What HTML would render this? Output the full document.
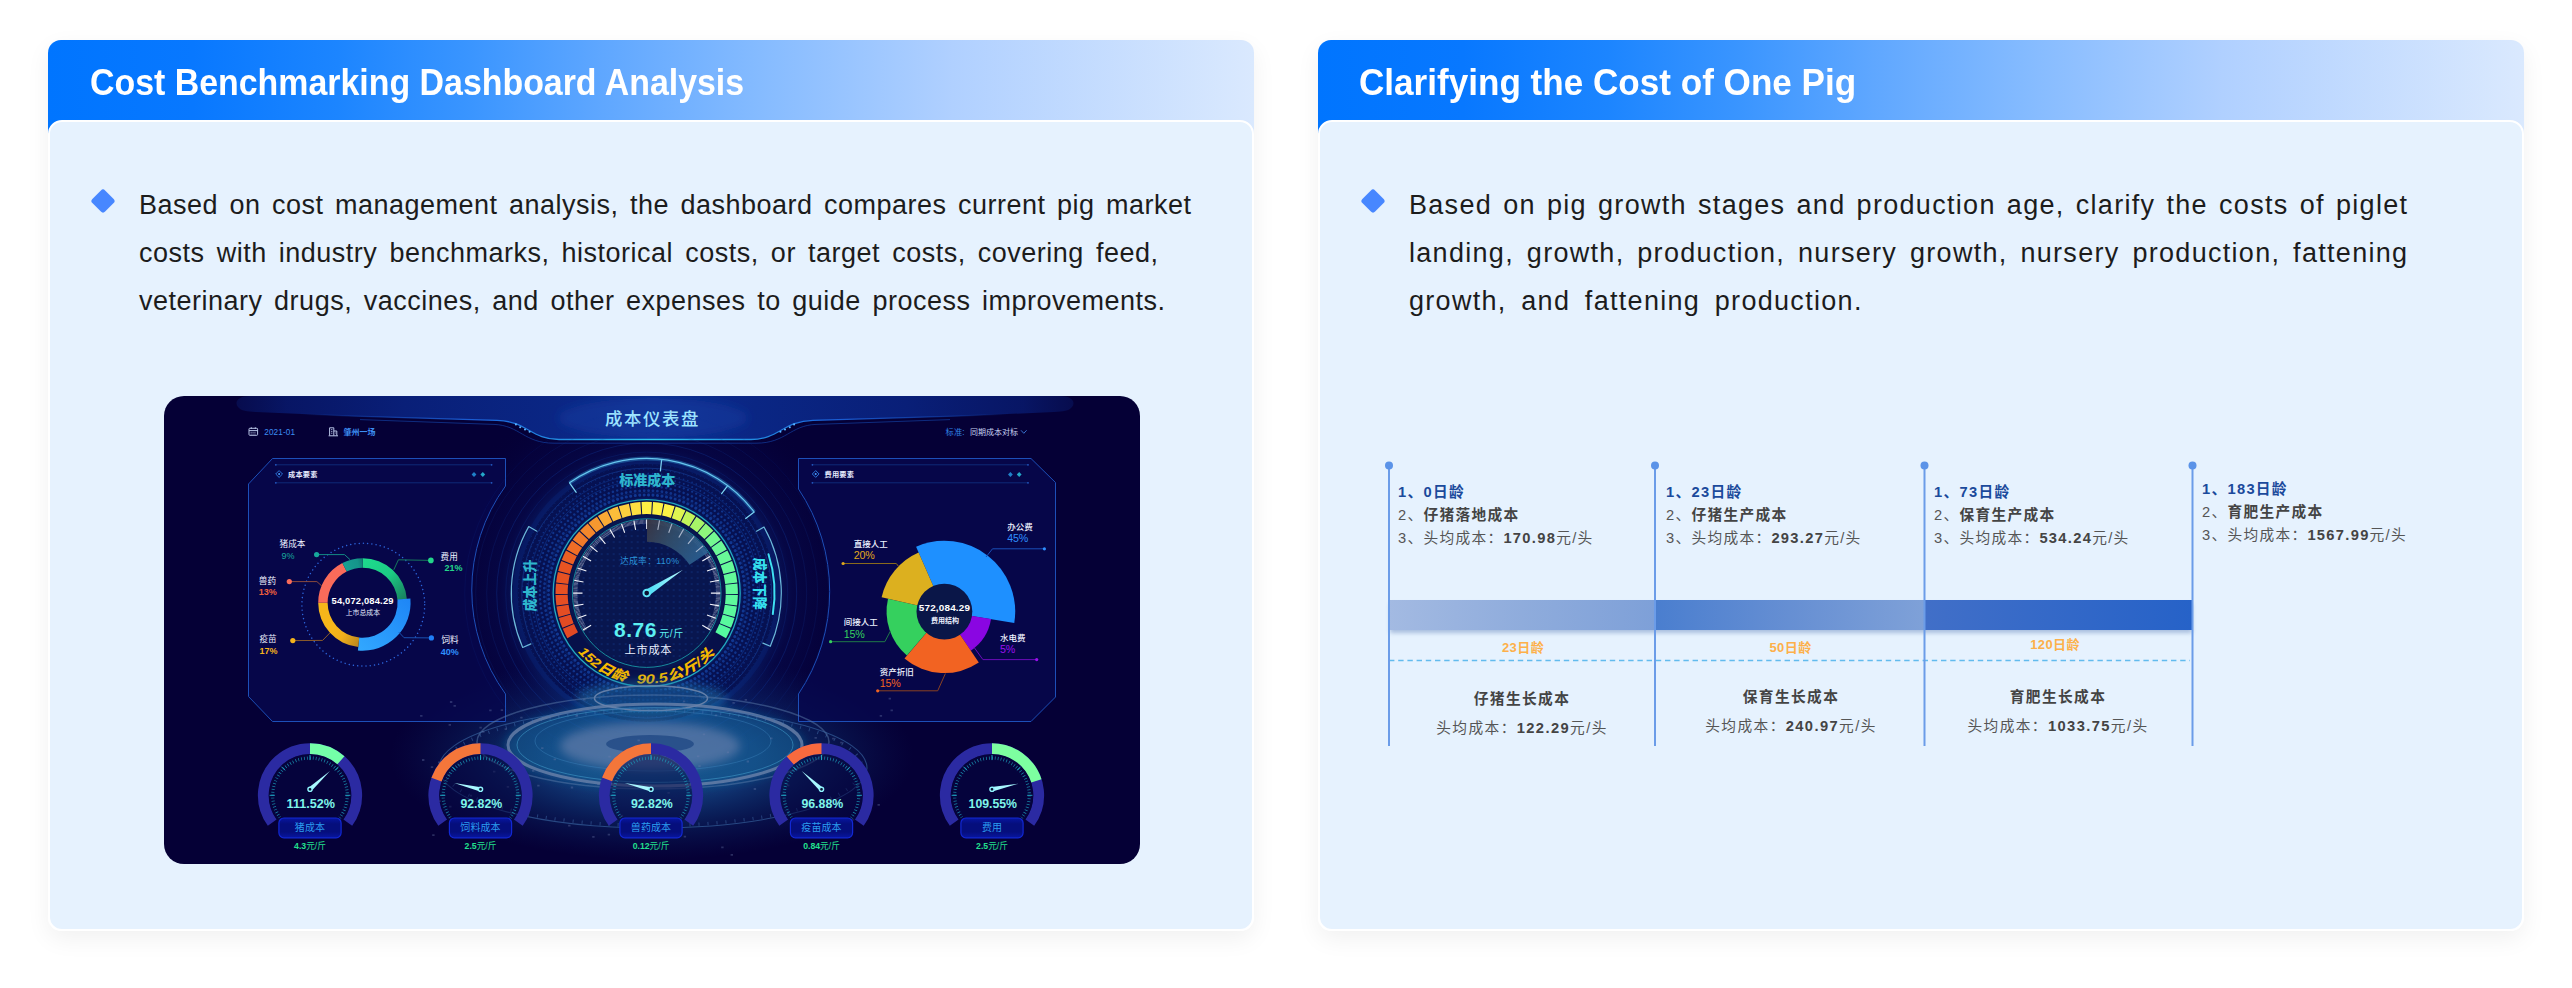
<!DOCTYPE html>
<html lang="en">
<head>
<meta charset="utf-8">
<title>Cost Benchmarking Dashboard Analysis</title>
<style>
*{box-sizing:border-box;margin:0;padding:0}
html,body{width:2572px;height:988px;background:#fff;overflow:hidden}
body{position:relative;font-family:"Liberation Sans","Noto Sans CJK SC",sans-serif;color:#1a1a1a}
.card{position:absolute;top:40px;width:1206px;height:891px;border-radius:13px;
  background:linear-gradient(90deg,#0075ff 0%,#0878ff 12%,#1c85ff 24%,#3a95ff 35%,#5fa7ff 46%,#85bbff 59%,#b0d0ff 75%,#dae9fe 100%) 0 0/100% 110px no-repeat #fff;
  box-shadow:0 8px 24px rgba(0,0,0,.06)}
.card .body{position:absolute;left:0;top:80px;width:1206px;height:811px;background:#e6f2fe;border:2px solid #fff;border-radius:14px}
.title{position:absolute;left:42px;top:21px;height:44px;line-height:44px;font-weight:700;font-size:36.5px;color:#fff;white-space:nowrap;transform-origin:0 50%}
.dia{position:absolute;left:46px;top:152px;width:18px;height:18px;background:#4787ff;border-radius:3px;transform:rotate(45deg)}
.ln{position:absolute;left:91px;height:48px;line-height:48px;font-size:27px;white-space:nowrap;color:#1c1c1c;letter-spacing:.5px}
.r .ln{letter-spacing:1.3px}

.tl{font-family:"Liberation Sans","Noto Sans CJK SC",sans-serif}
.tb{position:absolute;font-size:14.7px;letter-spacing:1.3px;line-height:23.1px;color:#555;white-space:nowrap}
.tb b{color:#444;font-weight:700}

.tb .h{color:#1b4a9c;font-weight:700}
.ag{position:absolute;width:100px;text-align:center;font-size:13px;letter-spacing:.4px;line-height:20px;font-weight:700;color:#fdb04a;white-space:nowrap}
.bb{position:absolute;text-align:center;font-size:14.7px;letter-spacing:1.4px;line-height:29px;color:#555;white-space:nowrap}
.bb .h{font-weight:700;color:#444}
.bb b{color:#444}
</style>
</head>
<body>
<div class="card" style="left:48px">
  <div class="title" id="t1" style="transform:scaleX(.9285)">Cost Benchmarking Dashboard Analysis</div>
  <div class="body"></div>
  <div class="dia"></div>
  <div class="ln" id="a1" style="top:141px;word-spacing:3.45px">Based on cost management analysis, the dashboard compares current pig market</div>
  <div class="ln" id="a2" style="top:189px;word-spacing:4.11px">costs with industry benchmarks, historical costs, or target costs, covering feed,</div>
  <div class="ln" id="a3" style="top:237px;word-spacing:3.56px">veterinary drugs, vaccines, and other expenses to guide process improvements.</div>
</div>
<div class="card r" style="left:1318px">
  <div class="title" id="t2" style="transform:scaleX(.9615);margin-left:-1px">Clarifying the Cost of One Pig</div>
  <div class="body"></div>
  <div class="dia"></div>
  <div class="ln" id="b1" style="top:141px;word-spacing:2.34px">Based on pig growth stages and production age, clarify the costs of piglet</div>
  <div class="ln" id="b2" style="top:189px;word-spacing:4.03px">landing, growth, production, nursery growth, nursery production, fattening</div>
  <div class="ln" id="b3" style="top:237px;word-spacing:5.84px">growth, and fattening production.</div>
</div>

<!--DASH-->
<svg class="dash" width="976" height="468" viewBox="164 396 976 468" style="position:absolute;left:164px;top:396px;border-radius:20px;overflow:hidden;font-family:'Liberation Sans','Noto Sans CJK SC',sans-serif">
<defs>
<radialGradient id="gGlow" cx="646.7" cy="593" r="215" gradientUnits="userSpaceOnUse"><stop offset="0" stop-color="#0a2a80" stop-opacity=".8"/><stop offset=".6" stop-color="#0a2878" stop-opacity=".55"/><stop offset=".68" stop-color="#08186a" stop-opacity=".28"/><stop offset=".85" stop-color="#071060" stop-opacity=".12"/><stop offset="1" stop-color="#050035" stop-opacity="0"/></radialGradient>
<radialGradient id="hGlow" cx=".5" cy=".5" r=".5"><stop offset="0" stop-color="#1f66a4" stop-opacity=".75"/><stop offset=".4" stop-color="#185a9c" stop-opacity=".62"/><stop offset=".62" stop-color="#104484" stop-opacity=".42"/><stop offset=".82" stop-color="#0c2c6c" stop-opacity=".24"/><stop offset="1" stop-color="#0a2060" stop-opacity="0"/></radialGradient>
<radialGradient id="hCore" cx=".5" cy=".5" r=".5"><stop offset="0" stop-color="#16386e" stop-opacity=".9"/><stop offset=".35" stop-color="#5d7fb4" stop-opacity=".85"/><stop offset=".7" stop-color="#4a78b4" stop-opacity=".45"/><stop offset="1" stop-color="#2a68b0" stop-opacity="0"/></radialGradient>
<linearGradient id="hdr" x1="0" x2="1" y1="0" y2="0"><stop offset="0" stop-color="#08145e" stop-opacity=".6"/><stop offset=".06" stop-color="#08186a" stop-opacity=".9"/><stop offset=".2" stop-color="#091f78"/><stop offset=".38" stop-color="#0a2684"/><stop offset=".5" stop-color="#0c2e90"/><stop offset=".62" stop-color="#0a2684"/><stop offset=".8" stop-color="#091f78"/><stop offset=".94" stop-color="#08186a" stop-opacity=".9"/><stop offset="1" stop-color="#08145e" stop-opacity=".6"/></linearGradient>
<linearGradient id="hdrl" x1="0" x2="1" y1="0" y2="0"><stop offset="0" stop-color="#1b5fd8" stop-opacity="0"/><stop offset=".25" stop-color="#1b5fd8"/><stop offset=".5" stop-color="#2cc6ee"/><stop offset=".75" stop-color="#1b5fd8"/><stop offset="1" stop-color="#1b5fd8" stop-opacity="0"/></linearGradient>
<pattern id="dots" x="646.7" y="593.1" width="4.6" height="4.6" patternUnits="userSpaceOnUse"><circle cx="2.3" cy="2.3" r="1.35" fill="#1b46ad"/></pattern>
<radialGradient id="dotFade" cx="646.7" cy="593.1" r="132" gradientUnits="userSpaceOnUse"><stop offset=".72" stop-color="#fff" stop-opacity="1"/><stop offset=".85" stop-color="#fff" stop-opacity=".75"/><stop offset="1" stop-color="#fff" stop-opacity="0"/></radialGradient>
<mask id="dotMask"><circle cx="646.7" cy="593.1" r="132" fill="url(#dotFade)"/></mask>
<pattern id="dots2" x="646.7" y="593.1" width="6" height="6" patternUnits="userSpaceOnUse"><circle cx="3" cy="3" r=".9" fill="#123a8c"/></pattern>
<linearGradient id="wedge" x1="646" y1="520" x2="706" y2="556" gradientUnits="userSpaceOnUse"><stop offset="0" stop-color="#3a3542" stop-opacity=".95"/><stop offset=".45" stop-color="#33506c" stop-opacity=".9"/><stop offset="1" stop-color="#2a6296" stop-opacity=".9"/></linearGradient>
<linearGradient id="ndl" x1="0" x2="1" y1="0" y2="0"><stop offset="0" stop-color="#46dcf6"/><stop offset="1" stop-color="#b8fbff"/></linearGradient>
<filter id="b1" x="-20%" y="-20%" width="140%" height="140%"><feGaussianBlur stdDeviation="1.2"/></filter>
<filter id="b3" x="-20%" y="-20%" width="140%" height="140%"><feGaussianBlur stdDeviation="3"/></filter>
<filter id="b5" x="-20%" y="-40%" width="140%" height="180%"><feGaussianBlur stdDeviation="5"/></filter>
<filter id="b8" x="-30%" y="-30%" width="160%" height="160%"><feGaussianBlur stdDeviation="8"/></filter>
<linearGradient id="lblg" x1="0" x2="0" y1="0" y2="1"><stop offset="0" stop-color="#0816a0"/><stop offset=".3" stop-color="#050e7c"/><stop offset=".7" stop-color="#050e7c"/><stop offset="1" stop-color="#0816a0"/></linearGradient>
</defs>
<rect x="164" y="396" width="976" height="468" fill="#050036"/>
<ellipse cx="652" cy="756" rx="262" ry="104" fill="url(#hGlow)"/>
<circle cx="646.7" cy="593" r="215" fill="url(#gGlow)"/>
<path d="M250 396C238 396 234 402 238 407C241 411 247 411.6 256 412L354 416.2L497 420.3C527 421.2 531 439.5 559 439.5L751 439.5C779 439.5 783 421.2 813 420.3L956 416.2L1054 412C1063 411.6 1069 411 1072 407C1076 402 1072 396 1060 396Z" fill="url(#hdr)"/>
<ellipse cx="653" cy="418" rx="95" ry="20" fill="#1846b0" fill-opacity=".3" filter="url(#b5)"/>
<path d="M300 414L354 416.2L497 420.3C527 421.2 531 439.5 559 439.5L751 439.5C779 439.5 783 421.2 813 420.3L956 416.2L1010 414" fill="none" stroke="url(#hdrl)" stroke-width="1.3"/>
<path d="M360 419.6L494 424.4C520 425.4 524 443.2 554 443.2L756 443.2C786 443.2 790 425.4 816 424.4L950 419.6" fill="none" stroke="#1a56c8" stroke-opacity=".5" stroke-width="1"/>
<circle cx="515.9" cy="424.4" r="1.05" fill="#5db4ff"/>
<circle cx="794.1" cy="424.4" r="1.05" fill="#5db4ff"/>
<circle cx="520.2" cy="427.2" r="1.05" fill="#5db4ff"/>
<circle cx="789.8" cy="427.2" r="1.05" fill="#5db4ff"/>
<circle cx="525" cy="429.5" r="1.05" fill="#5db4ff"/>
<circle cx="785" cy="429.5" r="1.05" fill="#5db4ff"/>
<circle cx="529.6" cy="431.7" r="1.05" fill="#5db4ff"/>
<circle cx="780.4" cy="431.7" r="1.05" fill="#5db4ff"/>
<text x="652.5" y="424.6" text-anchor="middle" font-size="17.4" font-weight="500" letter-spacing="1.6" fill="#9de4ff">成本仪表盘</text>
<g fill="none" stroke="#b8c4e6" stroke-width="1"><rect x="249" y="428.3" width="8.6" height="7" rx=".8"/><path d="M249 430.6h8.6M251.3 427.3v1.6M255.3 427.3v1.6" /><path d="M250.6 432.4h5.6M250.6 434h5.6" stroke-width=".7" stroke-dasharray="1.1 .8"/></g>
<text x="264.3" y="435" font-size="8.2" fill="#3d8ef2" letter-spacing=".1">2021-01</text>
<g fill="none" stroke="#b8c4e6" stroke-width="1"><path d="M329.6 435.6V427.8h4.2v7.8M333.8 431h3v4.6M328.6 435.8h9.4"/><path d="M331 429.6h1.4M331 431.4h1.4M331 433.2h1.4M335 433h.8" stroke-width=".8"/></g>
<text x="343.4" y="435" font-size="8" font-weight="700" fill="#3d8ef2">肇州一场</text>
<text x="945.4" y="435" font-size="8.2" fill="#2f80e4" letter-spacing=".3">标准:</text>
<text x="970" y="435" font-size="8" fill="#c6d2f2">同期成本对标</text>
<path d="M1021 430.3l2.8 3 2.8-3" fill="none" stroke="#3d7fe0" stroke-width=".9"/>
<path d="M272.5 458.5L505.5 458.5L505.5 486A177.2 177.2 0 0 0 505.5 694L505.5 721.5L272.5 721.5L248.5 696.5L248.5 484Z" fill="#06084e" fill-opacity=".78" stroke="#1d4fb8" stroke-width="1"/>
<path d="M798.5 458.5L1031 458.5L1055.5 482.5L1055.5 697L1031 721.5L798.5 721.5L798.5 694A184.1 184.1 0 0 0 798.5 489Z" fill="#06084e" fill-opacity=".78" stroke="#1d4fb8" stroke-width="1"/>
<path d="M275.8 464.8H491.6M275.8 482.8H491.6" stroke="#0e2c7c" stroke-width=".9" fill="none"/>
<circle cx="275.8" cy="464.8" r=".9" fill="#2458c0"/><circle cx="491.6" cy="464.8" r=".9" fill="#2458c0"/><circle cx="275.8" cy="482.8" r=".9" fill="#2458c0"/><circle cx="491.6" cy="482.8" r=".9" fill="#2458c0"/>
<path d="M279.1 470.6l3.4 3.4-3.4 3.4-3.4-3.4z" fill="none" stroke="#2f7fe6" stroke-width=".9"/><circle cx="279.1" cy="474" r="1" fill="#4aa0ff"/>
<text x="288" y="476.7" font-size="7.2" font-weight="700" fill="#e6ecff" letter-spacing=".2">成本要素</text>
<path d="M474 471.9l2.4 2.5-2.4 2.5-2.4-2.5z" fill="#1f80c8"/><path d="M482.8 471.9l2.4 2.5-2.4 2.5-2.4-2.5z" fill="#24a8c8"/>
<path d="M812.4 464.8H1028M812.4 482.8H1028" stroke="#0e2c7c" stroke-width=".9" fill="none"/>
<circle cx="812.4" cy="464.8" r=".9" fill="#2458c0"/><circle cx="1028" cy="464.8" r=".9" fill="#2458c0"/><circle cx="812.4" cy="482.8" r=".9" fill="#2458c0"/><circle cx="1028" cy="482.8" r=".9" fill="#2458c0"/>
<path d="M815.7 470.6l3.4 3.4-3.4 3.4-3.4-3.4z" fill="none" stroke="#2f7fe6" stroke-width=".9"/><circle cx="815.7" cy="474" r="1" fill="#4aa0ff"/>
<text x="824.6" y="476.7" font-size="7.2" font-weight="700" fill="#e6ecff" letter-spacing=".2">费用要素</text>
<path d="M1010.4 471.9l2.4 2.5-2.4 2.5-2.4-2.5z" fill="#1f80c8"/><path d="M1019.2 471.9l2.4 2.5-2.4 2.5-2.4-2.5z" fill="#24a8c8"/>
<circle cx="363.3" cy="604.7" r="61.4" fill="none" stroke="#2c64da" stroke-width="1.5" stroke-dasharray="0.01 4.24" stroke-linecap="round"/>
<defs>
<linearGradient id="dg1" x1="363" y1="558" x2="407" y2="600" gradientUnits="userSpaceOnUse"><stop offset="0" stop-color="#1edc8e"/><stop offset=".5" stop-color="#1ccc84"/><stop offset=".8" stop-color="#1a9a6c"/><stop offset="1" stop-color="#187a5c"/></linearGradient>
<linearGradient id="dg2" x1="410" y1="600" x2="358" y2="650" gradientUnits="userSpaceOnUse"><stop offset="0" stop-color="#1e86f6"/><stop offset="1" stop-color="#32a8ff"/></linearGradient>
<linearGradient id="dg3" x1="358" y1="647" x2="332" y2="630" gradientUnits="userSpaceOnUse"><stop offset="0" stop-color="#b8861e"/><stop offset=".6" stop-color="#f0ae1c"/><stop offset="1" stop-color="#f6b61a"/></linearGradient>
<linearGradient id="dg5" x1="343" y1="563" x2="363" y2="558" gradientUnits="userSpaceOnUse"><stop offset="0" stop-color="#17a093"/><stop offset=".7" stop-color="#15958a"/><stop offset="1" stop-color="#127a70"/></linearGradient>
</defs>
<path d="M362.6 558.3A44.4 44.4 0 0 1 406.9 599.2L397.5 600A35 35 0 0 0 362.6 567.7Z" fill="url(#dg1)"/>
<path d="M410.4 598.5A48 48 0 0 1 357.9 650.5L359.2 637.5A35 35 0 0 0 397.5 599.6Z" fill="url(#dg2)"/>
<path d="M358.3 646.9A44.4 44.4 0 0 1 318.2 602.7L327.6 602.7A35 35 0 0 0 359.2 637.5Z" fill="url(#dg3)"/>
<path d="M318.2 602.7A44.4 44.4 0 0 1 342.4 563.1L346.7 571.5A35 35 0 0 0 327.6 602.7Z" fill="#f96b5a"/>
<path d="M342.4 563.1A44.4 44.4 0 0 1 362.6 558.3L362.6 567.7A35 35 0 0 0 346.7 571.5Z" fill="url(#dg5)"/>
<text x="362.5" y="603.9" text-anchor="middle" font-size="9.4" font-weight="700" fill="#fff" textLength="62" lengthAdjust="spacing">54,072,084.29</text>
<text x="362.9" y="615.4" text-anchor="middle" font-size="6.9" fill="#e4eaff">上市总成本</text>
<text x="279.6" y="547.3" font-size="8.6" fill="#eef2ff">猪成本</text>
<text x="281.6" y="558.6999999999999" font-size="9" fill="#17a89c">9%</text>
<path d="M316.6 554.6L344.5 554.6L350.2 559.8" fill="none" stroke="#138a84" stroke-width="1"/>
<circle cx="316.6" cy="554.6" r="2.6" fill="#17a89c"/>
<text x="258.8" y="583.9" font-size="8.6" fill="#eef2ff">兽药</text>
<text x="258.8" y="595.3" font-size="9" font-weight="700" fill="#f0603c">13%</text>
<path d="M289.3 581.6L316.9 581.6L322 586.2" fill="none" stroke="#8a4a3c" stroke-width="1"/>
<circle cx="289.3" cy="581.6" r="2.6" fill="#f96b5a"/>
<text x="259.4" y="642.3" font-size="8.6" fill="#eef2ff">疫苗</text>
<text x="259.4" y="653.6999999999999" font-size="9" font-weight="700" fill="#f4b21c">17%</text>
<path d="M292.8 640.6L322.6 640.4L329.8 633" fill="none" stroke="#8a5a2a" stroke-width="1"/>
<circle cx="292.8" cy="640.6" r="2.6" fill="#f4b21c"/>
<text x="440.6" y="559.9" font-size="8.6" fill="#eef2ff">费用</text>
<text x="444.4" y="571.3" font-size="9" font-weight="700" fill="#23d68a">21%</text>
<path d="M430.9 560.4L398.4 559.8L393.8 569.8" fill="none" stroke="#167a5c" stroke-width="1"/>
<circle cx="430.9" cy="560.4" r="2.8" fill="#23d68a"/>
<text x="441.4" y="643.2" font-size="8.6" fill="#eef2ff">饲料</text>
<text x="440.8" y="654.6" font-size="9" font-weight="700" fill="#2f8fff">40%</text>
<path d="M431.4 637.9L404 637.7L399 632.3" fill="none" stroke="#1a50b0" stroke-width="1"/>
<circle cx="431.4" cy="637.9" r="2.6" fill="#1f7ff8"/>
<path d="M944.4 611.6L916.1 546.7A70.8 70.8 0 0 1 1014.3 622.9Z" fill="#1e90ff"/>
<path d="M944.4 611.6L991 619.1A47.2 47.2 0 0 1 970.8 650.7Z" fill="#8a06e2"/>
<path d="M944.4 611.6L978.8 662.6A61.5 61.5 0 0 1 904.5 658.4Z" fill="#f26322"/>
<path d="M944.4 611.6L906.9 655.6A57.8 57.8 0 0 1 888 598.8Z" fill="#35d05e"/>
<path d="M944.4 611.6L881.6 597.3A64.4 64.4 0 0 1 918.6 552.6Z" fill="#dcb01f"/>
<circle cx="944.4" cy="611.6" r="27.9" fill="#0a1648"/>
<text x="944.4" y="610.5" text-anchor="middle" font-size="9.9" font-weight="700" fill="#fff" textLength="51.2" lengthAdjust="spacing">572,084.29</text>
<text x="945" y="622.6" text-anchor="middle" font-size="7" font-weight="700" fill="#eef2ff">费用结构</text>
<text x="1007.2" y="529.6" font-size="8.5" fill="#eef2ff" font-weight="500">办公费</text>
<text x="1007.2" y="542.4" font-size="10.7" fill="#2f8fff" letter-spacing="-.2">45%</text>
<path d="M1044.4 548.8L992.5 548.8L986 557" fill="none" stroke="#1a4fb8" stroke-width="1"/>
<circle cx="1044.4" cy="548.8" r="1.6" fill="#2f8fff"/>
<text x="853.8" y="546.6" font-size="8.5" fill="#eef2ff" font-weight="500">直接人工</text>
<text x="853.8" y="559.4" font-size="10.7" fill="#e0a81c" letter-spacing="-.2">20%</text>
<path d="M843.1 563.5L896.3 563.5L898.5 566.4" fill="none" stroke="#8a6a1c" stroke-width="1"/>
<circle cx="843.1" cy="563.5" r="1.6" fill="#e0a81c"/>
<text x="843.8" y="625.3" font-size="8.5" fill="#eef2ff" font-weight="500">间接人工</text>
<text x="843.8" y="638.0999999999999" font-size="10.7" fill="#35d05e" letter-spacing="-.2">15%</text>
<path d="M830.6 641.7L884.8 641.7L890.6 630.8" fill="none" stroke="#1f7a48" stroke-width="1"/>
<circle cx="830.6" cy="641.7" r="1.6" fill="#35d05e"/>
<text x="1000" y="640.6" font-size="8.5" fill="#eef2ff" font-weight="500">水电费</text>
<text x="1000" y="653.4" font-size="10.7" fill="#9a10ee" letter-spacing="-.2">5%</text>
<path d="M1036.7 659.6L982.9 659.6L974.2 647.5" fill="none" stroke="#6a0cb8" stroke-width="1"/>
<circle cx="1036.7" cy="659.6" r="1.6" fill="#9a10ee"/>
<text x="879.8" y="674.6" font-size="8.5" fill="#eef2ff" font-weight="500">资产折旧</text>
<text x="879.8" y="687.4" font-size="10.7" fill="#f26322" letter-spacing="-.2">15%</text>
<path d="M877.7 690.8L937.7 690.8L945.4 673.5" fill="none" stroke="#8a4222" stroke-width="1"/>
<circle cx="877.7" cy="690.8" r="1.6" fill="#f26322"/>
<circle cx="646.7" cy="593.1" r="141" fill="none" stroke="#123c9a" stroke-opacity="0.24" stroke-width="1"/>
<circle cx="646.7" cy="593.1" r="150" fill="none" stroke="#123c9a" stroke-opacity="0.34" stroke-width="1"/>
<circle cx="646.7" cy="593.1" r="160" fill="none" stroke="#123c9a" stroke-opacity="0.2" stroke-width="1"/>
<circle cx="646.7" cy="593.1" r="171" fill="none" stroke="#123c9a" stroke-opacity="0.17" stroke-width="1"/>
<circle cx="646.7" cy="593.1" r="182" fill="none" stroke="#123c9a" stroke-opacity="0.12" stroke-width="1"/>
<circle cx="646.7" cy="593.1" r="134" fill="#0a2c84" fill-opacity=".3" filter="url(#b3)"/>
<circle cx="646.7" cy="593.1" r="129" fill="#061050" fill-opacity=".92"/>
<circle cx="646.7" cy="593.1" r="98.2" fill="none" stroke="#133c98" stroke-opacity="0.9" stroke-width="3.1" stroke-linecap="round" stroke-dasharray="0.01 4.494" transform="rotate(0 646.7 593.1)"/>
<circle cx="646.7" cy="593.1" r="102.5" fill="none" stroke="#133c98" stroke-opacity="0.8" stroke-width="2.8" stroke-linecap="round" stroke-dasharray="0.01 4.494" transform="rotate(1.3 646.7 593.1)"/>
<circle cx="646.7" cy="593.1" r="106.8" fill="none" stroke="#133c98" stroke-opacity="0.8" stroke-width="2.5" stroke-linecap="round" stroke-dasharray="0.01 4.494" transform="rotate(0 646.7 593.1)"/>
<circle cx="646.7" cy="593.1" r="111.1" fill="none" stroke="#133c98" stroke-opacity="0.8" stroke-width="2.2" stroke-linecap="round" stroke-dasharray="0.01 4.494" transform="rotate(1.2 646.7 593.1)"/>
<circle cx="646.7" cy="593.1" r="115.4" fill="none" stroke="#133c98" stroke-opacity="0.7" stroke-width="1.9" stroke-linecap="round" stroke-dasharray="0.01 4.494" transform="rotate(0 646.7 593.1)"/>
<circle cx="646.7" cy="593.1" r="119.7" fill="none" stroke="#133c98" stroke-opacity="0.7" stroke-width="1.6" stroke-linecap="round" stroke-dasharray="0.01 4.494" transform="rotate(1.1 646.7 593.1)"/>
<circle cx="646.7" cy="593.1" r="124" fill="none" stroke="#133c98" stroke-opacity="0.6" stroke-width="1.2" stroke-linecap="round" stroke-dasharray="0.01 4.494" transform="rotate(0 646.7 593.1)"/>
<circle cx="646.7" cy="593.1" r="128.3" fill="none" stroke="#133c98" stroke-opacity="0.6" stroke-width="0.9" stroke-linecap="round" stroke-dasharray="0.01 4.494" transform="rotate(1 646.7 593.1)"/>
<circle cx="646.7" cy="593.1" r="100.5" fill="none" stroke="#0a1f66" stroke-opacity="0.9" stroke-width="1"/>
<circle cx="646.7" cy="593.1" r="113" fill="none" stroke="#0c2a7c" stroke-opacity="0.9" stroke-width="1"/>
<circle cx="646.7" cy="593.1" r="118.6" fill="none" stroke="#0c2a7c" stroke-opacity="0.8" stroke-width="1"/>
<circle cx="646.7" cy="593.1" r="125" fill="none" stroke="#1a4aa8" stroke-opacity="0.5" stroke-width="1"/>
<g fill="none" stroke="#7ed6f2" stroke-width="1.2" stroke-linecap="round">
<path d="M569.5 482.8A134.6 134.6 0 0 1 754.2 512.1M569.5 482.8L576.2 492.3M661.6 459.9L660.4 470.9M727.7 485.6L721.6 493.7M754.2 512.1L745.7 518.5"/>
<path d="M528.7 526.6A135.4 135.4 0 0 0 522.7 647.5M528.7 526.6L536.9 531.2M522.7 647.5L530.9 643.9" stroke-opacity=".85"/>
<path d="M764 527A134.6 134.6 0 0 1 770.3 646.3M764 527L756.5 531.2M770.3 646.3L762.9 643.1" stroke-opacity=".85"/>
</g>
<path d="M768.5 554.2A127.8 127.8 0 0 1 772.8 614" fill="none" stroke="#3fe0f2" stroke-width="2" stroke-linecap="round"/>
<path d="M569.5 482.8A134.6 134.6 0 0 1 754.2 512.1" fill="none" stroke="#3aa8e8" stroke-opacity=".35" stroke-width="4" filter="url(#b1)"/>
<circle cx="646.7" cy="593.1" r="95.5" fill="#071a60"/>
<circle cx="646.7" cy="593.1" r="93.5" fill="#07104a" stroke="#22a8c0" stroke-width="1.3"/>
<circle cx="646.7" cy="593.1" r="78" fill="#08164f"/>
<circle cx="646.7" cy="593.1" r="72" fill="url(#dots2)" fill-opacity=".5"/>
<path d="M567.4 638.2A91.2 91.2 0 0 1 562.8 628.8L574 624.1A79 79 0 0 0 578 632.2Z" fill="#e24924"/>
<path d="M562.4 627.8A91.2 91.2 0 0 1 558.9 617.9L570.7 614.6A79 79 0 0 0 573.6 623.2Z" fill="#e34b24"/>
<path d="M558.7 616.9A91.2 91.2 0 0 1 556.5 606.6L568.6 604.8A79 79 0 0 0 570.4 613.7Z" fill="#e44d23"/>
<path d="M556.4 605.5A91.2 91.2 0 0 1 555.5 595.1L567.7 594.8A79 79 0 0 0 568.4 603.9Z" fill="#e54e23"/>
<path d="M555.5 594A91.2 91.2 0 0 1 556 583.5L568.1 584.8A79 79 0 0 0 567.7 593.9Z" fill="#e65023"/>
<path d="M556.1 582.4A91.2 91.2 0 0 1 557.9 572.1L569.8 574.9A79 79 0 0 0 568.2 583.9Z" fill="#e75222"/>
<path d="M558.2 571.1A91.2 91.2 0 0 1 561.3 561.1L572.7 565.4A79 79 0 0 0 570 574Z" fill="#e85422"/>
<path d="M561.7 560A91.2 91.2 0 0 1 566 550.5L576.8 556.2A79 79 0 0 0 573.1 564.5Z" fill="#eb6024"/>
<path d="M566.6 549.5A91.2 91.2 0 0 1 572.1 540.7L582.1 547.7A79 79 0 0 0 577.3 555.4Z" fill="#ee6d26"/>
<path d="M572.7 539.7A91.2 91.2 0 0 1 579.3 531.6L588.3 539.9A79 79 0 0 0 582.6 546.9Z" fill="#f17a29"/>
<path d="M580.1 530.8A91.2 91.2 0 0 1 587.7 523.6L595.6 532.9A79 79 0 0 0 589 539.1Z" fill="#f4872b"/>
<path d="M588.5 522.9A91.2 91.2 0 0 1 596.9 516.7L603.6 526.9A79 79 0 0 0 596.3 532.3Z" fill="#f6982f"/>
<path d="M597.9 516.1A91.2 91.2 0 0 1 607 511L612.3 522A79 79 0 0 0 604.4 526.4Z" fill="#f9aa35"/>
<path d="M608 510.5A91.2 91.2 0 0 1 617.7 506.6L621.6 518.2A79 79 0 0 0 613.2 521.6Z" fill="#fbbd3a"/>
<path d="M618.8 506.3A91.2 91.2 0 0 1 628.9 503.7L631.3 515.6A79 79 0 0 0 622.5 517.9Z" fill="#fdcf3e"/>
<path d="M630 503.4A91.2 91.2 0 0 1 640.4 502.1L641.2 514.3A79 79 0 0 0 632.2 515.4Z" fill="#fedf41"/>
<path d="M641.5 502A91.2 91.2 0 0 1 651.9 502L651.2 514.2A79 79 0 0 0 642.2 514.2Z" fill="#fff044"/>
<path d="M653 502.1A91.2 91.2 0 0 1 663.4 503.4L661.2 515.4A79 79 0 0 0 652.2 514.3Z" fill="#fdf145"/>
<path d="M664.5 503.7A91.2 91.2 0 0 1 674.6 506.3L670.9 517.9A79 79 0 0 0 662.1 515.6Z" fill="#fbf246"/>
<path d="M675.7 506.6A91.2 91.2 0 0 1 685.4 510.5L680.2 521.6A79 79 0 0 0 671.8 518.2Z" fill="#dff450"/>
<path d="M686.4 511A91.2 91.2 0 0 1 695.5 516.1L689 526.4A79 79 0 0 0 681.1 522Z" fill="#c2f55a"/>
<path d="M696.5 516.7A91.2 91.2 0 0 1 704.9 522.9L697.1 532.3A79 79 0 0 0 689.8 526.9Z" fill="#a7f668"/>
<path d="M705.7 523.6A91.2 91.2 0 0 1 713.3 530.8L704.4 539.1A79 79 0 0 0 697.8 532.9Z" fill="#8ef77c"/>
<path d="M714.1 531.6A91.2 91.2 0 0 1 720.7 539.7L710.8 546.9A79 79 0 0 0 705.1 539.9Z" fill="#74f891"/>
<path d="M721.3 540.7A91.2 91.2 0 0 1 726.8 549.5L716.1 555.4A79 79 0 0 0 711.3 547.7Z" fill="#6cf897"/>
<path d="M727.4 550.5A91.2 91.2 0 0 1 731.7 560L720.3 564.5A79 79 0 0 0 716.6 556.2Z" fill="#69f898"/>
<path d="M732.1 561.1A91.2 91.2 0 0 1 735.2 571.1L723.4 574A79 79 0 0 0 720.7 565.4Z" fill="#66f999"/>
<path d="M735.5 572.1A91.2 91.2 0 0 1 737.3 582.4L725.2 583.9A79 79 0 0 0 723.6 574.9Z" fill="#63f99a"/>
<path d="M737.4 583.5A91.2 91.2 0 0 1 737.9 594L725.7 593.9A79 79 0 0 0 725.3 584.8Z" fill="#61f99b"/>
<path d="M737.9 595.1A91.2 91.2 0 0 1 737 605.5L725 603.9A79 79 0 0 0 725.7 594.8Z" fill="#5ef99c"/>
<path d="M736.9 606.6A91.2 91.2 0 0 1 734.7 616.9L723 613.7A79 79 0 0 0 724.8 604.8Z" fill="#5bf99d"/>
<path d="M734.5 617.9A91.2 91.2 0 0 1 731 627.8L719.8 623.2A79 79 0 0 0 722.7 614.6Z" fill="#58fa9e"/>
<path d="M730.6 628.8A91.2 91.2 0 0 1 726 638.2L715.4 632.2A79 79 0 0 0 719.4 624.1Z" fill="#55fa9f"/>
<circle cx="646.7" cy="593.1" r="74.3" fill="none" stroke="#178a9c" stroke-width="1"/>
<path d="M585.5 629.9A71.4 71.4 0 1 1 707.9 629.9" fill="none" stroke="#d6dcee" stroke-opacity=".7" stroke-width="4.2" stroke-dasharray=".45 .75"/>
<path d="M583 629.9L591.1 625.2M577.5 618.3L586.4 615.1M574.2 605.9L583.5 604.2M573.1 593.1L582.5 593.1M574.2 580.3L583.5 582M577.5 567.9L586.4 571.1M583 556.3L591.1 561M590.3 545.8L597.5 551.8M599.4 536.7L605.4 543.9M609.9 529.4L614.6 537.5M621.5 523.9L624.7 532.8M633.9 520.6L635.6 529.9M646.7 519.5L646.7 528.9M659.5 520.6L657.8 529.9M671.9 523.9L668.7 532.8M683.5 529.4L678.8 537.5M694 536.7L688 543.9M703.1 545.8L695.9 551.8M710.4 556.3L702.3 561M715.9 567.9L707 571.1M719.2 580.3L709.9 582M720.3 593.1L710.9 593.1M719.2 605.9L709.9 604.2M715.9 618.3L707 615.1M710.4 629.9L702.3 625.2" fill="none" stroke="#f2f4fb" stroke-width="1.1"/>
<path d="M647.1 519.5A73.6 73.6 0 0 1 708 552.4L689.5 564.7A51.4 51.4 0 0 0 647 541.7Z" fill="url(#wedge)"/>
<path d="M659.5 520.6L657.8 529.9M671.9 523.9L668.7 532.8M683.5 529.4L678.8 537.5M694 536.7L688 543.9M703.1 545.8L695.9 551.8" fill="none" stroke="#c8cfe2" stroke-opacity=".75" stroke-width="1.1"/>
<path d="M649.8 595.1L683 569.7L646.1 589.4Z" fill="url(#ndl)"/>
<circle cx="646.7" cy="593.1" r="3.3" fill="#0a1030" stroke="#5fe6f8" stroke-width="1.9"/>
<text x="649.6" y="563.8" text-anchor="middle" font-size="8.8" fill="#2a92da" letter-spacing=".3">达成率：110%</text>
<text x="614" y="636.8" font-size="21" font-weight="700" fill="#5cf0f2" letter-spacing=".5">8.76</text>
<text x="659.2" y="636.6" font-size="10" fill="#5cf0f2" letter-spacing=".6">元/斤</text>
<text x="648.4" y="653.6" text-anchor="middle" font-size="11.2" fill="#e8f0ff" letter-spacing=".7">上市成本</text>
<text x="647.2" y="485.4" text-anchor="middle" font-size="13.6" font-weight="900" fill="#2eb6ce" textLength="56" lengthAdjust="spacingAndGlyphs">标准成本</text>
<text transform="translate(534.6 585.4) rotate(-90)" text-anchor="middle" font-size="13.6" font-weight="900" fill="#2eb6ce" textLength="52" lengthAdjust="spacingAndGlyphs">成本上升</text>
<text transform="translate(755.4 583.8) rotate(90)" text-anchor="middle" font-size="13.6" font-weight="900" fill="#35dfee" textLength="52" lengthAdjust="spacingAndGlyphs">成本下降</text>
<defs><path id="gtp" d="M575.3 648.9A90.6 90.6 0 0 0 718.1 648.9"/></defs>
<text font-size="13.2" font-weight="900" font-style="italic" fill="#f5b800"><textPath href="#gtp" startOffset="4" textLength="56.9" lengthAdjust="spacingAndGlyphs">152日龄</textPath></text>
<text font-size="13.2" font-weight="900" font-style="italic" fill="#f5b800"><textPath href="#gtp" startOffset="71.9" textLength="87" lengthAdjust="spacingAndGlyphs">90.5公斤/头</textPath></text>
<g fill="none">
<ellipse cx="654" cy="746" rx="150" ry="43" fill="#1f74a6" fill-opacity=".42" filter="url(#b5)"/>
<ellipse cx="650" cy="746" rx="90" ry="24" fill="#7688b2" fill-opacity=".55" filter="url(#b5)"/>
<ellipse cx="650" cy="744" rx="44" ry="9" fill="#123c7c" fill-opacity=".6" filter="url(#b3)"/>
<ellipse cx="651" cy="698" rx="76" ry="17" fill="#1f78ac" fill-opacity=".5" filter="url(#b5)"/>
<ellipse cx="651" cy="698.2" rx="56.5" ry="12.4" stroke="#7288ae" stroke-opacity=".85" stroke-width="1.5"/>
<ellipse cx="651" cy="699" rx="50" ry="9.5" fill="#0f3a7c" fill-opacity=".55" filter="url(#b1)"/>
<ellipse cx="655" cy="745" rx="147" ry="41" stroke="#6a82aa" stroke-opacity=".8" stroke-width="3"/>
<ellipse cx="655" cy="745" rx="138" ry="37.4" stroke="#3f9ac8" stroke-opacity=".6" stroke-width="1"/>
<ellipse cx="653" cy="741" rx="118" ry="30" stroke="#3f88c0" stroke-opacity=".4" stroke-width="1"/>
<ellipse cx="653" cy="742" rx="176" ry="47" stroke="#5a7aa8" stroke-opacity=".5" stroke-width="1.6"/>
<ellipse cx="653" cy="768" rx="214" ry="60" stroke="#3d6ca8" stroke-opacity=".6" stroke-width="1.1"/>
<ellipse cx="653" cy="768" rx="209" ry="57.6" stroke="#4a7ab8" stroke-opacity=".45" stroke-width="3.4" stroke-dasharray="1 8"/>
</g>
<path d="M575.4 714.9h2.4v1.8h-2.4zM732.4 702h2.4v1.8h-2.4zM677.2 750.3h2.4v1.8h-2.4zM447.8 773.7h2.4v1.8h-2.4zM438 761.6h2.4v1.8h-2.4zM453.5 705h2.4v1.8h-2.4zM623.8 826.4h2.4v1.8h-2.4zM479.4 726.8h2.4v1.8h-2.4zM721.2 846.4h2.4v1.8h-2.4zM697 755.5h2.4v1.8h-2.4zM888.6 697.7h2.4v1.8h-2.4zM832.1 737.8h2.4v1.8h-2.4zM489.2 709.4h2.4v1.8h-2.4zM568.1 824.7h2.4v1.8h-2.4zM506.7 786h2.4v1.8h-2.4zM726.7 751.4h2.4v1.8h-2.4zM682.9 700.4h2.4v1.8h-2.4zM448.6 724h2.4v1.8h-2.4zM746.6 760.6h2.4v1.8h-2.4zM570.8 786.6h2.4v1.8h-2.4zM637.5 739.5h2.4v1.8h-2.4zM801.3 805.3h2.4v1.8h-2.4zM537.2 784.8h2.4v1.8h-2.4zM672.1 834.4h2.4v1.8h-2.4zM770.1 737.5h2.4v1.8h-2.4zM890.5 709.5h2.4v1.8h-2.4zM620.7 814.9h2.4v1.8h-2.4zM493 770.7h2.4v1.8h-2.4zM438.8 800.3h2.4v1.8h-2.4zM787 784.5h2.4v1.8h-2.4zM840.2 741.8h2.4v1.8h-2.4zM753.7 788.1h2.4v1.8h-2.4zM698.3 765.3h2.4v1.8h-2.4zM823.2 845.9h2.4v1.8h-2.4zM647.6 799.6h2.4v1.8h-2.4zM449.1 805.7h2.4v1.8h-2.4zM730.6 853.9h2.4v1.8h-2.4zM814.5 737h2.4v1.8h-2.4zM605.2 800.3h2.4v1.8h-2.4zM430.8 766.2h2.4v1.8h-2.4zM500.7 709.3h2.4v1.8h-2.4zM448.3 816.8h2.4v1.8h-2.4zM482.1 730.9h2.4v1.8h-2.4zM607.7 833.8h2.4v1.8h-2.4zM458.7 764.1h2.4v1.8h-2.4zM683.7 835.8h2.4v1.8h-2.4zM813.3 832.6h2.4v1.8h-2.4zM553.6 758.5h2.4v1.8h-2.4zM592.2 835.9h2.4v1.8h-2.4zM879.7 714.9h2.4v1.8h-2.4zM504.6 728.3h2.4v1.8h-2.4zM532 770h2.4v1.8h-2.4zM702.8 733.4h2.4v1.8h-2.4zM422 759.1h2.4v1.8h-2.4zM597.2 783.4h2.4v1.8h-2.4zM877.5 803.9h2.4v1.8h-2.4zM667.4 791.9h2.4v1.8h-2.4zM744.6 698.9h2.4v1.8h-2.4zM851.8 818.7h2.4v1.8h-2.4zM839.8 821.6h2.4v1.8h-2.4zM608.3 755.8h2.4v1.8h-2.4zM469.7 794.7h2.4v1.8h-2.4zM449.9 701.1h2.4v1.8h-2.4zM520.2 716.8h2.4v1.8h-2.4zM583.2 698.7h2.4v1.8h-2.4zM420.1 715h2.4v1.8h-2.4zM468.7 750h2.4v1.8h-2.4zM432.2 834.3h2.4v1.8h-2.4zM714.8 714.5h2.4v1.8h-2.4zM541.1 747.3h2.4v1.8h-2.4z" fill="#6f7fb0" fill-opacity=".35"/>
<path d="M272.2 822.7A46.7 46.7 0 1 1 347.8 822.7" fill="none" stroke="#2b2aa2" stroke-width="10.8"/>
<path d="M310 748.6A46.7 46.7 0 0 1 340.9 760.3" fill="none" stroke="#74ffa8" stroke-width="10.8"/>
<circle cx="310" cy="795.3" r="41.2" fill="#060542" fill-opacity=".5"/>
<path d="M279.8 817.2A37.3 37.3 0 1 1 339.8 817.7" fill="none" stroke="#1c9cba" stroke-opacity=".85" stroke-width="3.2" stroke-dasharray=".75 2.180" stroke-dashoffset=".37"/>
<path d="M269.6 795.3L274.8 795.3M281.4 766.7L285.1 770.4M310 754.9L310 760.1M338.6 766.7L334.9 770.4M350.4 795.3L345.2 795.3" fill="none" stroke="#22b0cc" stroke-width=".9"/>
<path d="M311.5 790.9L330 771.1L308.5 787.7Z" fill="#a8f8ff"/>
<circle cx="310" cy="789.3" r="2.1" fill="#0a1030" stroke="#8ff4ff" stroke-width="1.4"/>
<text x="310.8" y="808.2" text-anchor="middle" font-size="13" font-weight="700" fill="#7ff5ea" textLength="48.4" lengthAdjust="spacingAndGlyphs">111.52%</text>
<rect x="278.9" y="818" width="62.2" height="19.8" rx="5" fill="url(#lblg)" stroke="#1228d4" stroke-width="1.2"/>
<text x="310" y="831.4" text-anchor="middle" font-size="10" fill="#2a9cf0" letter-spacing=".1">猪成本</text>
<text x="310" y="849.4" text-anchor="middle" font-size="8.7" font-weight="700" fill="#22e08e">4.3<tspan font-weight="400">元/斤</tspan></text>
<path d="M442.7 822.7A46.7 46.7 0 1 1 518.3 822.7" fill="none" stroke="#2b2aa2" stroke-width="10.8"/>
<path d="M436.5 779.6A46.7 46.7 0 0 1 480.5 748.6" fill="none" stroke="#f4763a" stroke-width="10.8"/>
<circle cx="480.5" cy="795.3" r="41.2" fill="#060542" fill-opacity=".5"/>
<path d="M450.3 817.2A37.3 37.3 0 1 1 510.3 817.7" fill="none" stroke="#1c9cba" stroke-opacity=".85" stroke-width="3.2" stroke-dasharray=".75 2.180" stroke-dashoffset=".37"/>
<path d="M440.1 795.3L445.3 795.3M451.9 766.7L455.6 770.4M480.5 754.9L480.5 760.1M509.1 766.7L505.4 770.4M520.9 795.3L515.7 795.3" fill="none" stroke="#22b0cc" stroke-width=".9"/>
<path d="M481 787.2L454.2 783.1L480 791.4Z" fill="#a8f8ff"/>
<circle cx="480.5" cy="789.3" r="2.1" fill="#0a1030" stroke="#8ff4ff" stroke-width="1.4"/>
<text x="481.3" y="808.2" text-anchor="middle" font-size="13" font-weight="700" fill="#7ff5ea" textLength="41.8" lengthAdjust="spacingAndGlyphs">92.82%</text>
<rect x="449.4" y="818" width="62.2" height="19.8" rx="5" fill="url(#lblg)" stroke="#1228d4" stroke-width="1.2"/>
<text x="480.5" y="831.4" text-anchor="middle" font-size="10" fill="#2a9cf0" letter-spacing=".1">饲料成本</text>
<text x="480.5" y="849.4" text-anchor="middle" font-size="8.7" font-weight="700" fill="#22e08e">2.5<tspan font-weight="400">元/斤</tspan></text>
<path d="M613.2 822.7A46.7 46.7 0 1 1 688.8 822.7" fill="none" stroke="#2b2aa2" stroke-width="10.8"/>
<path d="M607.1 779.3A46.7 46.7 0 0 1 651 748.6" fill="none" stroke="#f4763a" stroke-width="10.8"/>
<circle cx="651" cy="795.3" r="41.2" fill="#060542" fill-opacity=".5"/>
<path d="M620.8 817.2A37.3 37.3 0 1 1 680.8 817.7" fill="none" stroke="#1c9cba" stroke-opacity=".85" stroke-width="3.2" stroke-dasharray=".75 2.180" stroke-dashoffset=".37"/>
<path d="M610.6 795.3L615.8 795.3M622.4 766.7L626.1 770.4M651 754.9L651 760.1M679.6 766.7L675.9 770.4M691.4 795.3L686.2 795.3" fill="none" stroke="#22b0cc" stroke-width=".9"/>
<path d="M651.5 787.2L624.7 783.1L650.5 791.4Z" fill="#a8f8ff"/>
<circle cx="651" cy="789.3" r="2.1" fill="#0a1030" stroke="#8ff4ff" stroke-width="1.4"/>
<text x="651.8" y="808.2" text-anchor="middle" font-size="13" font-weight="700" fill="#7ff5ea" textLength="41.8" lengthAdjust="spacingAndGlyphs">92.82%</text>
<rect x="619.9" y="818" width="62.2" height="19.8" rx="5" fill="url(#lblg)" stroke="#1228d4" stroke-width="1.2"/>
<text x="651" y="831.4" text-anchor="middle" font-size="10" fill="#2a9cf0" letter-spacing=".1">兽药成本</text>
<text x="651" y="849.4" text-anchor="middle" font-size="8.7" font-weight="700" fill="#22e08e">0.12<tspan font-weight="400">元/斤</tspan></text>
<path d="M783.7 822.7A46.7 46.7 0 1 1 859.3 822.7" fill="none" stroke="#2b2aa2" stroke-width="10.8"/>
<path d="M790.3 760.6A46.7 46.7 0 0 1 821.5 748.6" fill="none" stroke="#f86a3e" stroke-width="10.8"/>
<circle cx="821.5" cy="795.3" r="41.2" fill="#060542" fill-opacity=".5"/>
<path d="M791.3 817.2A37.3 37.3 0 1 1 851.3 817.7" fill="none" stroke="#1c9cba" stroke-opacity=".85" stroke-width="3.2" stroke-dasharray=".75 2.180" stroke-dashoffset=".37"/>
<path d="M781.1 795.3L786.3 795.3M792.9 766.7L796.6 770.4M821.5 754.9L821.5 760.1M850.1 766.7L846.4 770.4M861.9 795.3L856.7 795.3" fill="none" stroke="#22b0cc" stroke-width=".9"/>
<path d="M823 787.7L801.7 771L820 790.9Z" fill="#a8f8ff"/>
<circle cx="821.5" cy="789.3" r="2.1" fill="#0a1030" stroke="#8ff4ff" stroke-width="1.4"/>
<text x="822.3" y="808.2" text-anchor="middle" font-size="13" font-weight="700" fill="#7ff5ea" textLength="41.8" lengthAdjust="spacingAndGlyphs">96.88%</text>
<rect x="790.4" y="818" width="62.2" height="19.8" rx="5" fill="url(#lblg)" stroke="#1228d4" stroke-width="1.2"/>
<text x="821.5" y="831.4" text-anchor="middle" font-size="10" fill="#2a9cf0" letter-spacing=".1">疫苗成本</text>
<text x="821.5" y="849.4" text-anchor="middle" font-size="8.7" font-weight="700" fill="#22e08e">0.84<tspan font-weight="400">元/斤</tspan></text>
<path d="M954.2 822.7A46.7 46.7 0 1 1 1029.8 822.7" fill="none" stroke="#2b2aa2" stroke-width="10.8"/>
<path d="M992 748.6A46.7 46.7 0 0 1 1036.4 780.9" fill="none" stroke="#7dffa0" stroke-width="10.8"/>
<circle cx="992" cy="795.3" r="41.2" fill="#060542" fill-opacity=".5"/>
<path d="M961.8 817.2A37.3 37.3 0 1 1 1021.8 817.7" fill="none" stroke="#1c9cba" stroke-opacity=".85" stroke-width="3.2" stroke-dasharray=".75 2.180" stroke-dashoffset=".37"/>
<path d="M951.6 795.3L956.8 795.3M963.4 766.7L967.1 770.4M992 754.9L992 760.1M1020.6 766.7L1016.9 770.4M1032.4 795.3L1027.2 795.3" fill="none" stroke="#22b0cc" stroke-width=".9"/>
<path d="M992.5 791.5L1018.4 783.7L991.5 787.1Z" fill="#a8f8ff"/>
<circle cx="992" cy="789.3" r="2.1" fill="#0a1030" stroke="#8ff4ff" stroke-width="1.4"/>
<text x="992.8" y="808.2" text-anchor="middle" font-size="13" font-weight="700" fill="#7ff5ea" textLength="48.4" lengthAdjust="spacingAndGlyphs">109.55%</text>
<rect x="960.9" y="818" width="62.2" height="19.8" rx="5" fill="url(#lblg)" stroke="#1228d4" stroke-width="1.2"/>
<text x="992" y="831.4" text-anchor="middle" font-size="10" fill="#2a9cf0" letter-spacing=".1">费用</text>
<text x="992" y="849.4" text-anchor="middle" font-size="8.7" font-weight="700" fill="#22e08e">2.5<tspan font-weight="400">元/斤</tspan></text>
</svg>
<!--/DASH-->
<!-- timeline -->
<svg class="ov" width="2572" height="988" viewBox="0 0 2572 988" style="position:absolute;left:0;top:0">
  <defs>
    <linearGradient id="sg1" x1="0" x2="1" y1="0" y2="0"><stop offset="0" stop-color="#a3bae2"/><stop offset=".5" stop-color="#8facdc"/><stop offset="1" stop-color="#7ea0d8"/></linearGradient>
    <linearGradient id="sg2" x1="0" x2="1" y1="0" y2="0"><stop offset="0" stop-color="#4a7ecf"/><stop offset=".5" stop-color="#668fd3"/><stop offset="1" stop-color="#7fa1d8"/></linearGradient>
    <linearGradient id="sg3" x1="0" x2="1" y1="0" y2="0"><stop offset="0" stop-color="#416fc8"/><stop offset="1" stop-color="#2662c8"/></linearGradient>
    <filter id="bsh" x="-5%" y="-50%" width="110%" height="220%"><feGaussianBlur stdDeviation="2.2"/></filter>
  </defs>
  <rect x="1390" y="604" width="802" height="29" fill="#5d7fb8" opacity=".45" filter="url(#bsh)"/>
  <rect x="1389" y="600" width="266" height="30" fill="url(#sg1)"/>
  <rect x="1655" y="600" width="270" height="30" fill="url(#sg2)"/>
  <rect x="1925" y="600" width="268" height="30" fill="url(#sg3)"/>
  <path d="M1389 660.5H2190" stroke="#62bbee" stroke-width="1.5" stroke-dasharray="5.4 3.8" fill="none"/>
  <g stroke="#6b9ce8" stroke-width="2" fill="none">
    <path d="M1389 466V746M1655 466V746M1924.5 466V746M2192.5 466V746"/>
  </g>
  <g fill="#5b93e8">
    <circle cx="1389" cy="465.5" r="4"/><circle cx="1655" cy="465.5" r="4"/><circle cx="1924.5" cy="465.5" r="4"/><circle cx="2192.5" cy="465.5" r="4"/>
  </g>
</svg>
<div class="tl">
  <div class="tb" style="left:1398px;top:480.5px"><p class="h">1、0日龄</p><p>2、<b>仔猪落地成本</b></p><p>3、头均成本：<b class="n">170.98</b>元/头</p></div>
  <div class="tb" style="left:1666px;top:480.5px"><p class="h">1、23日龄</p><p>2、<b>仔猪生产成本</b></p><p>3、头均成本：<b class="n">293.27</b>元/头</p></div>
  <div class="tb" style="left:1934px;top:480.5px"><p class="h">1、73日龄</p><p>2、<b>保育生产成本</b></p><p>3、头均成本：<b class="n">534.24</b>元/头</p></div>
  <div class="tb" style="left:2202px;top:477.5px"><p class="h">1、183日龄</p><p>2、<b>育肥生产成本</b></p><p>3、头均成本：<b class="n">1567.99</b>元/头</p></div>
  <div class="ag" style="left:1473px;top:637.5px">23日龄</div>
  <div class="ag" style="left:1740.5px;top:637.5px">50日龄</div>
  <div class="ag" style="left:2005px;top:634.5px">120日龄</div>
  <div class="bb" style="left:1389px;top:685px;width:266px"><p class="h">仔猪生长成本</p><p>头均成本：<b class="n">122.29</b>元/头</p></div>
  <div class="bb" style="left:1657px;top:683px;width:268px"><p class="h">保育生长成本</p><p>头均成本：<b class="n">240.97</b>元/头</p></div>
  <div class="bb" style="left:1924px;top:683px;width:268px"><p class="h">育肥生长成本</p><p>头均成本：<b class="n">1033.75</b>元/头</p></div>
</div>
</body>
</html>
